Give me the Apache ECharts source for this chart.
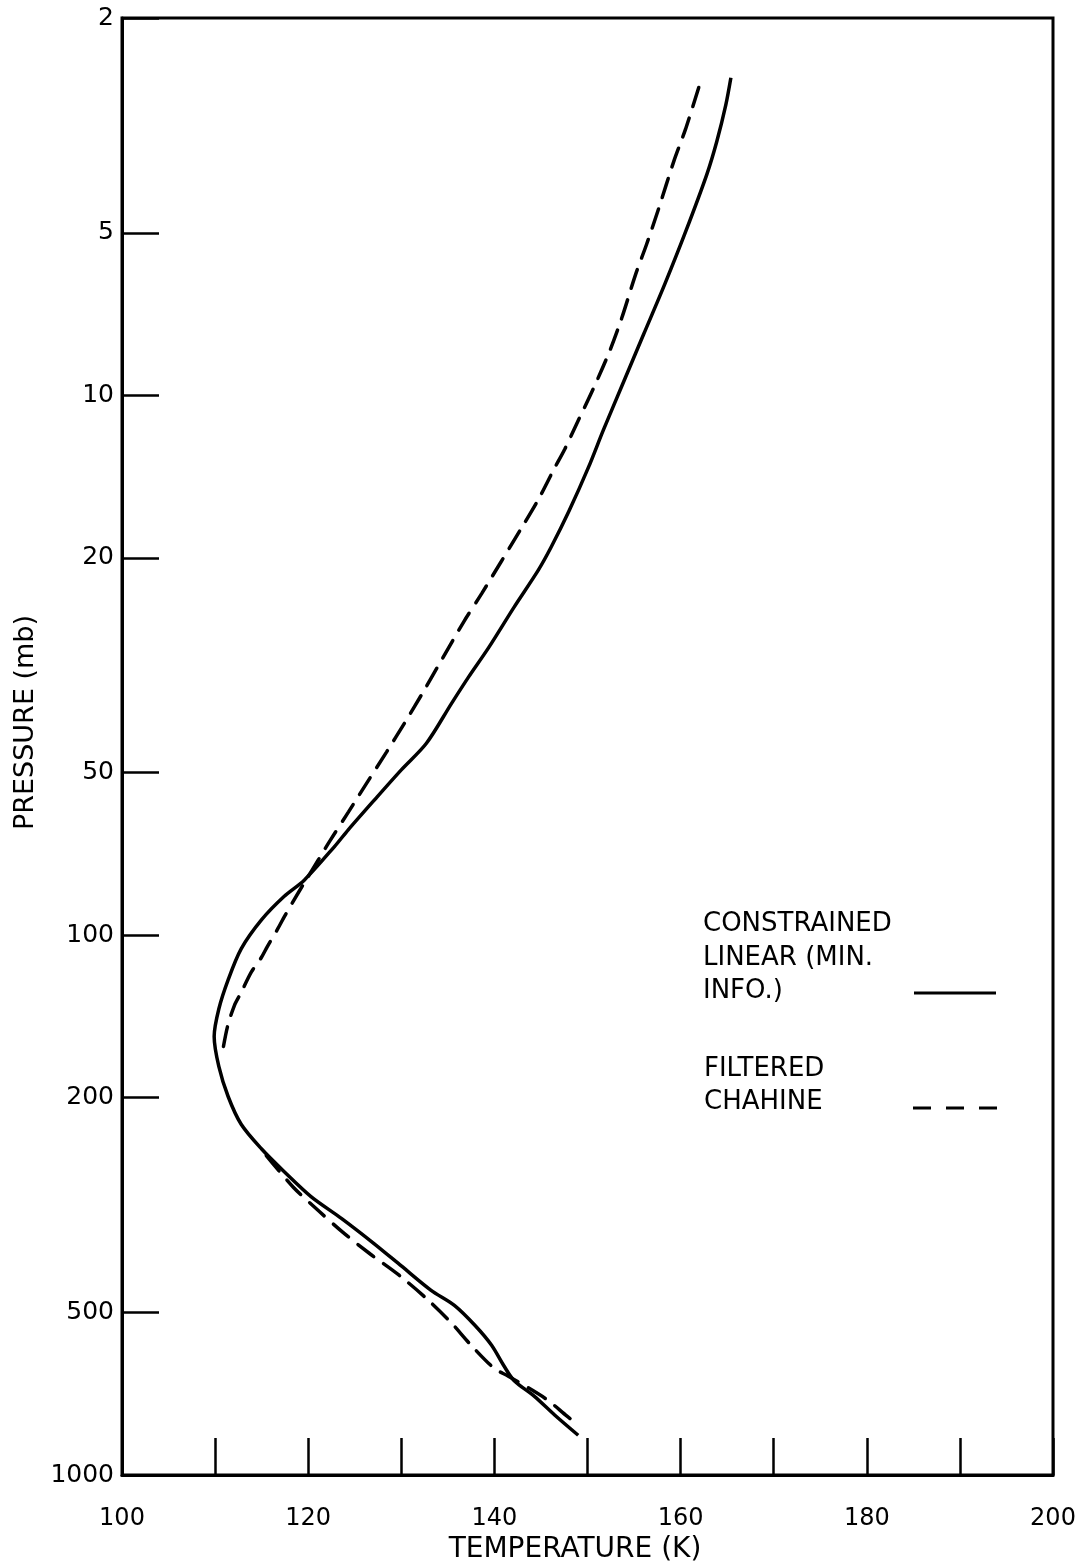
<!DOCTYPE html>
<html>
<head>
<meta charset="utf-8">
<script src="https://cdn.jsdelivr.net/npm/echarts@6/dist/echarts.min.js"></script>
<style>
  html, body { margin: 0; padding: 0; background: #fff; }
  #chart { width: 1078px; height: 1561px; }
</style>
</head>
<body>
<div id="chart"></div>
<script>
// Pressure levels (mb) marked on the vertical log axis
const pressureTicks = [2, 5, 10, 20, 50, 100, 200, 500, 1000];
// Temperature values (K) that carry a label; ticks run every 10 K
const temperatureLabels = [100, 120, 140, 160, 180, 200];

// Constrained linear (minimum information) retrieval
const linearPressure = [2.58, 2.90, 3.39, 3.90, 4.97, 6.23, 7.70, 9.53, 11.6, 13.6, 16.4, 19.1, 21.1, 24.7,
  29.3, 33.3, 37.2, 44.1, 49.4, 56.2, 63.8, 68.6, 79.0, 84.8, 93.6, 106, 121, 137, 154, 175, 199, 224,
  249, 274, 305, 335, 373, 410, 455, 485, 528, 575, 627, 668, 715, 775, 844];
const linearTemp = [165.4, 164.85, 163.88, 162.81, 160.55, 158.29, 156.04, 153.78, 151.7, 150.1, 148.0, 146.1, 144.7, 142.1,
  139.4, 137.2, 135.4, 132.7, 130.0, 127.1, 124.3, 122.8, 119.6, 117.4, 115.0, 112.8, 111.4, 110.4, 109.9, 110.4, 111.4, 112.8,
  115.0, 117.4, 120.3, 123.6, 127.1, 130.0, 133.2, 135.7, 137.9, 139.7, 141.0, 142.1, 144.3, 146.5, 149.0];

// Filtered Chahine retrieval: upper branch (down to ~165 mb)
const chahineUpperPressure = [2.69, 3.21, 3.69, 4.51, 5.25, 5.97, 7.20, 8.28, 9.69, 11.3, 12.6, 13.7, 15.5, 17.6,
  20.4, 23.3, 26.3, 30.7, 35.6, 40.5, 45.8, 52.0, 59.1, 67.1, 72.5, 79.9, 85.9, 92.4, 97.6, 105, 110, 117,
  128, 135, 148, 165];
const chahineUpperTemp = [161.95, 160.54, 159.26, 157.64, 156.35, 155.17, 153.67, 152.38, 150.66, 148.83, 147.54, 146.4, 144.8, 142.92,
  140.67, 138.63, 136.69, 134.43, 132.28, 130.34, 128.41, 126.37, 124.33, 122.28, 121.1, 119.6, 118.5, 117.44, 116.69, 115.61, 114.97, 113.9,
  112.77, 112.07, 111.32, 110.78];
// Filtered Chahine retrieval: lower branch (from ~256 mb)
const chahineLowerPressure = [256, 293, 325, 355, 390, 427, 471, 521, 575, 635, 656, 722, 778, 795];
const chahineLowerTemp = [115.5, 118.4, 121.2, 123.7, 126.7, 129.8, 132.7, 135.3, 137.5, 140.0, 141.5, 145.5, 147.8, 148.5];

const FONT = 'DejaVu Sans';
const INK = '#000';

const pairs = (temps, pressures) => temps.map((t, i) => [t, pressures[i]]);

const chart = echarts.init(document.getElementById('chart'), null, { renderer: 'canvas' });

const curveStyle = { color: INK, width: 3.5 };
const dashedStyle = { color: INK, width: 3.5, type: [20, 12], cap: 'round' };

chart.setOption({
  backgroundColor: '#fff',
  animation: false,
  grid: {
    left: 122, right: 25, top: 18, bottom: 86,
    containLabel: false, outerBoundsMode: 'none',
    show: true, borderColor: INK, borderWidth: 3, backgroundColor: 'transparent'
  },
  xAxis: {
    type: 'value', min: 100, max: 200, interval: 10,
    axisLine: { show: true, lineStyle: { color: INK, width: 3 } },
    axisTick: { show: true, inside: true, length: 37, lineStyle: { color: INK, width: 2.5 } },
    axisLabel: {
      margin: 32, fontSize: 24, color: INK, fontFamily: FONT,
      formatter: v => (temperatureLabels.indexOf(v) >= 0 ? String(v) : '')
    },
    splitLine: { show: false },
    name: 'TEMPERATURE (K)', nameLocation: 'middle', nameGap: 56,
    nameTextStyle: { fontSize: 28, color: INK, fontFamily: FONT, padding: [0, 25, 0, 0] }
  },
  yAxis: {
    type: 'log', logBase: 10, min: 2, max: 1000, inverse: true,
    axisLine: { show: true, lineStyle: { color: INK, width: 3 } },
    axisTick: { show: true, inside: true, length: 37, customValues: pressureTicks, lineStyle: { color: INK, width: 2.5 } },
    axisLabel: {
      customValues: pressureTicks, margin: 8, fontSize: 25, color: INK, fontFamily: FONT,
      formatter: v => String(Math.round(v))
    },
    minorTick: { show: false },
    splitLine: { show: false },
    name: 'PRESSURE (mb)', nameLocation: 'middle', nameGap: 83, nameRotate: 90,
    nameTextStyle: { fontSize: 27, color: INK, fontFamily: FONT, padding: [0, 0, 0, 48] }
  },
  series: [
    {
      name: 'CONSTRAINED LINEAR (MIN. INFO.)', type: 'line',
      data: pairs(linearTemp, linearPressure),
      symbol: 'none', smooth: 0.3, lineStyle: curveStyle
    },
    {
      name: 'FILTERED CHAHINE', type: 'line',
      data: pairs(chahineUpperTemp, chahineUpperPressure),
      symbol: 'none', smooth: 0.3, lineStyle: dashedStyle
    },
    {
      name: 'FILTERED CHAHINE', type: 'line',
      data: pairs(chahineLowerTemp, chahineLowerPressure),
      symbol: 'none', smooth: 0.3, lineStyle: dashedStyle
    }
  ],
  graphic: [
    // Key: text blocks on the left, line samples on the right
    { type: 'text', x: 703, y: 924, style: { text: 'CONSTRAINED', font: '26px "DejaVu Sans"', fill: INK, verticalAlign: 'middle' } },
    { type: 'text', x: 703, y: 958, style: { text: 'LINEAR (MIN.', font: '26px "DejaVu Sans"', fill: INK, verticalAlign: 'middle' } },
    { type: 'text', x: 703, y: 991, style: { text: 'INFO.)', font: '26px "DejaVu Sans"', fill: INK, verticalAlign: 'middle' } },
    { type: 'line', shape: { x1: 914, y1: 993, x2: 996, y2: 993 }, style: { stroke: INK, lineWidth: 3 } },
    { type: 'text', x: 704, y: 1069, style: { text: 'FILTERED', font: '26px "DejaVu Sans"', fill: INK, verticalAlign: 'middle' } },
    { type: 'text', x: 704, y: 1102, style: { text: 'CHAHINE', font: '26px "DejaVu Sans"', fill: INK, verticalAlign: 'middle' } },
    { type: 'line', shape: { x1: 913, y1: 1108, x2: 997, y2: 1108 }, style: { stroke: INK, lineWidth: 3, lineDash: [18, 15] } }
  ]
});
</script>
</body>
</html>
